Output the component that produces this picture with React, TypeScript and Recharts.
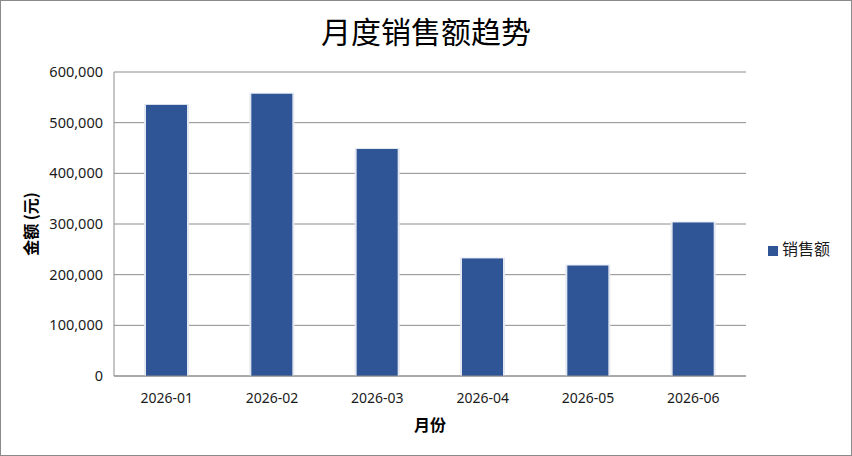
import { Bar, BarChart, CartesianGrid, Legend, XAxis, YAxis } from "recharts";

const months = ["2026-01", "2026-02", "2026-03", "2026-04", "2026-05", "2026-06"];
const sales = [535000, 557000, 448000, 232000, 218000, 303000];
const yTicks = [0, 100000, 200000, 300000, 400000, 500000, 600000];
const seriesName = "销售额";

const data = months.map((m, i) => ({ month: m, sales: sales[i] }));

const BAR_COLOR = "#2F5597";
const AXIS_FONT = "'Noto Sans', 'Noto Sans CJK SC', sans-serif";

function ShadowBar(props: any) {
  const { x, y, width, height } = props;
  if (height <= 0) return null;
  return (
    <g>
      <rect x={x - 2} y={y - 1} width={width + 4} height={height + 1} fill="#e3e8f1" />
      <rect x={x} y={y} width={width} height={height} fill={BAR_COLOR} />
    </g>
  );
}

export default function App() {
  return (
    <div style={{ position: "absolute", left: 0, top: 0, width: 852, height: 456, background: "#fff" }}>
      <BarChart
        width={852}
        height={456}
        data={data}
        margin={{ top: 72, right: 26, bottom: 50, left: 0 }}
      >
        <CartesianGrid vertical={false} stroke="#8c8c8c" />
        <XAxis
          dataKey="month"
          tickLine={false}
          tickSize={0}
          tickMargin={17}
          axisLine={{ stroke: "#8c8c8c" }}
          tick={{ fill: "#1a1a1a", fontSize: 14, fontFamily: AXIS_FONT }}
        />
        <YAxis
          width={114}
          domain={[0, 600000]}
          ticks={yTicks}
          tickLine={false}
          tickSize={0}
          tickMargin={11}
          axisLine={{ stroke: "#8c8c8c" }}
          tickFormatter={(v: number) => v.toLocaleString("en-US")}
          tick={{ fill: "#1a1a1a", fontSize: 14.5, fontFamily: AXIS_FONT }}
        />
        <Legend
          layout="vertical"
          align="right"
          verticalAlign="middle"
          iconType="square"
          iconSize={10}
          wrapperStyle={{ left: 768, top: 236, right: "auto", width: 80, whiteSpace: "nowrap" }}
          formatter={(v: string) => (
            <span style={{ color: "#1a1a1a", fontSize: 16, fontFamily: "'Noto Sans CJK SC', sans-serif" }}>{v}</span>
          )}
        />
        <Bar
          dataKey="sales"
          name={seriesName}
          fill={BAR_COLOR}
          barSize={41}
          shape={ShadowBar}
          isAnimationActive={false}
        />
      </BarChart>
      <div
        style={{
          position: "absolute",
          left: 0,
          top: 12,
          width: 852,
          textAlign: "center",
          fontSize: 30,
          fontFamily: "'Noto Sans CJK SC', sans-serif",
          color: "#000",
          lineHeight: "36px",
        }}
      >
        月度销售额趋势
      </div>
      <div
        style={{
          position: "absolute",
          left: 30,
          top: 224,
          transform: "translate(-50%, -50%) rotate(-90deg)",
          whiteSpace: "nowrap",
          fontSize: 16,
          fontWeight: 700,
          fontFamily: "'Noto Sans CJK SC', sans-serif",
          color: "#000",
        }}
      >
        金额 (元)
      </div>
      <div
        style={{
          position: "absolute",
          left: 430,
          top: 424,
          transform: "translate(-50%, -50%)",
          whiteSpace: "nowrap",
          fontSize: 16,
          fontWeight: 700,
          fontFamily: "'Noto Sans CJK SC', sans-serif",
          color: "#000",
        }}
      >
        月份
      </div>
      <div
        style={{
          position: "absolute",
          inset: 0,
          border: "1px solid #8a8a8a",
          pointerEvents: "none",
        }}
      />
    </div>
  );
}
